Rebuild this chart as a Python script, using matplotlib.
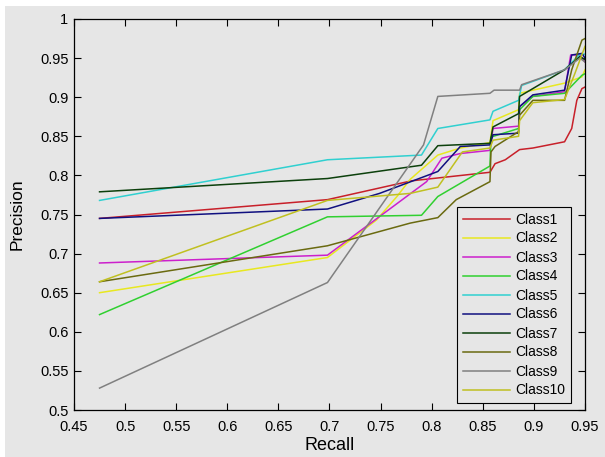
import matplotlib
matplotlib.use("Agg")
import matplotlib.pyplot as plt
from matplotlib.patches import Rectangle

plt.rcParams['font.family'] = ['Liberation Sans', 'DejaVu Sans']

class_names = ["Class1", "Class2", "Class3", "Class4", "Class5",
               "Class6", "Class7", "Class8", "Class9", "Class10"]

rec_c1 = [0.475, 0.698, 0.78, 0.857, 0.862, 0.872, 0.886, 0.899, 0.930, 0.937, 0.942, 0.947, 0.95]
prec_c1 = [0.745, 0.769, 0.793, 0.804, 0.815, 0.820, 0.833, 0.835, 0.843, 0.860, 0.896, 0.911, 0.913]

rec_c2 = [0.475, 0.698, 0.746, 0.766, 0.779, 0.806, 0.828, 0.857, 0.860, 0.885, 0.886, 0.899, 0.930, 0.947, 0.95]
prec_c2 = [0.650, 0.695, 0.743, 0.773, 0.795, 0.826, 0.835, 0.842, 0.870, 0.884, 0.905, 0.909, 0.918, 0.926, 0.935]

rec_c3 = [0.475, 0.698, 0.795, 0.81, 0.828, 0.857, 0.860, 0.885, 0.886, 0.899, 0.930, 0.936, 0.945, 0.95]
prec_c3 = [0.688, 0.698, 0.792, 0.822, 0.828, 0.832, 0.860, 0.863, 0.888, 0.901, 0.907, 0.954, 0.954, 0.945]

rec_c4 = [0.475, 0.698, 0.79, 0.806, 0.857, 0.858, 0.885, 0.886, 0.899, 0.930, 0.947, 0.95]
prec_c4 = [0.622, 0.747, 0.749, 0.773, 0.812, 0.849, 0.860, 0.884, 0.901, 0.905, 0.928, 0.93]

rec_c5 = [0.475, 0.698, 0.790, 0.806, 0.857, 0.860, 0.885, 0.888, 0.930, 0.945, 0.95]
prec_c5 = [0.768, 0.820, 0.826, 0.860, 0.871, 0.882, 0.896, 0.915, 0.935, 0.955, 0.955]

rec_c6 = [0.475, 0.698, 0.749, 0.806, 0.828, 0.857, 0.860, 0.885, 0.886, 0.899, 0.930, 0.937, 0.947, 0.95]
prec_c6 = [0.745, 0.757, 0.777, 0.805, 0.837, 0.839, 0.852, 0.854, 0.888, 0.903, 0.909, 0.954, 0.956, 0.95]

rec_c7 = [0.475, 0.698, 0.790, 0.806, 0.857, 0.860, 0.885, 0.886, 0.930, 0.945, 0.95]
prec_c7 = [0.779, 0.796, 0.813, 0.838, 0.841, 0.862, 0.879, 0.901, 0.935, 0.952, 0.948]

rec_c8 = [0.475, 0.698, 0.779, 0.806, 0.824, 0.857, 0.858, 0.862, 0.885, 0.886, 0.899, 0.930, 0.937, 0.947, 0.95]
prec_c8 = [0.664, 0.710, 0.739, 0.746, 0.769, 0.792, 0.830, 0.837, 0.856, 0.877, 0.896, 0.896, 0.935, 0.973, 0.975]

rec_c9 = [0.475, 0.698, 0.792, 0.806, 0.857, 0.861, 0.886, 0.888, 0.930, 0.945, 0.95]
prec_c9 = [0.528, 0.663, 0.839, 0.901, 0.905, 0.909, 0.909, 0.916, 0.935, 0.95, 0.945]

rec_c10 = [0.475, 0.698, 0.779, 0.806, 0.83, 0.857, 0.860, 0.885, 0.886, 0.899, 0.930, 0.940, 0.95]
prec_c10 = [0.664, 0.768, 0.777, 0.785, 0.830, 0.835, 0.845, 0.850, 0.870, 0.893, 0.897, 0.930, 0.965]

recalls = [rec_c1, rec_c2, rec_c3, rec_c4, rec_c5, rec_c6, rec_c7, rec_c8, rec_c9, rec_c10]
precisions = [prec_c1, prec_c2, prec_c3, prec_c4, prec_c5, prec_c6, prec_c7, prec_c8, prec_c9, prec_c10]

colors = ["#c8202a", "#e8e820", "#cc20cc", "#30d030", "#30d0d0",
          "#101080", "#0c400c", "#6a6a10", "#808080", "#c0c020"]

x_ticks = [0.45, 0.5, 0.55, 0.6, 0.65, 0.7, 0.75, 0.8, 0.85, 0.9, 0.95]
x_tick_labels = ["0.45", "0.5", "0.55", "0.6", "0.65", "0.7", "0.75", "0.8", "0.85", "0.9", "0.95"]
y_ticks = [0.5, 0.55, 0.6, 0.65, 0.7, 0.75, 0.8, 0.85, 0.9, 0.95, 1.0]
y_tick_labels = ["0.5", "0.55", "0.6", "0.65", "0.7", "0.75", "0.8", "0.85", "0.9", "0.95", "1"]

bg = "#e6e6e6"
fig = plt.figure(figsize=(6.05, 4.57), dpi=100)
fig.patch.set_facecolor(bg)
# thin white screenshot border on the left and top
fig.patches.append(Rectangle((0, 0), 5 / 605, 1, transform=fig.transFigure,
                             facecolor="white", edgecolor="none", zorder=-5))
fig.patches.append(Rectangle((0, 1 - 6 / 457), 1, 6 / 457, transform=fig.transFigure,
                             facecolor="white", edgecolor="none", zorder=-5))

ax = fig.add_axes([74 / 605, 1 - 410 / 457, (585 - 74) / 605, (410 - 19) / 457])
ax.set_facecolor(bg)

for r, p, c, n in zip(recalls, precisions, colors, class_names):
    ax.plot(r, p, color=c, lw=1.1, label=n)

ax.set_xlim(0.45, 0.95)
ax.set_ylim(0.5, 1.0)
ax.set_xticks(x_ticks)
ax.set_xticklabels(x_tick_labels)
ax.set_yticks(y_ticks)
ax.set_yticklabels(y_tick_labels)
ax.tick_params(direction="in", top=True, right=True, length=5, width=0.8,
               labelsize=10.5, colors="black")
ax.tick_params(axis="x", pad=7)
ax.tick_params(axis="y", pad=4)
for s in ax.spines.values():
    s.set_linewidth(0.9)

ax.set_xlabel("Recall", fontsize=13, labelpad=2)
ax.set_ylabel("Precision", fontsize=12.5, labelpad=11)

leg = ax.legend(loc="lower right", fontsize=10, frameon=True, fancybox=False,
                edgecolor="black", facecolor=bg, framealpha=1,
                handlelength=3.4, handletextpad=0.4, labelspacing=0.36,
                borderpad=0.4, bbox_to_anchor=(0.9865, 0.0))
leg.get_frame().set_linewidth(0.8)

fig.savefig("out.png", dpi=100, facecolor=fig.get_facecolor())
